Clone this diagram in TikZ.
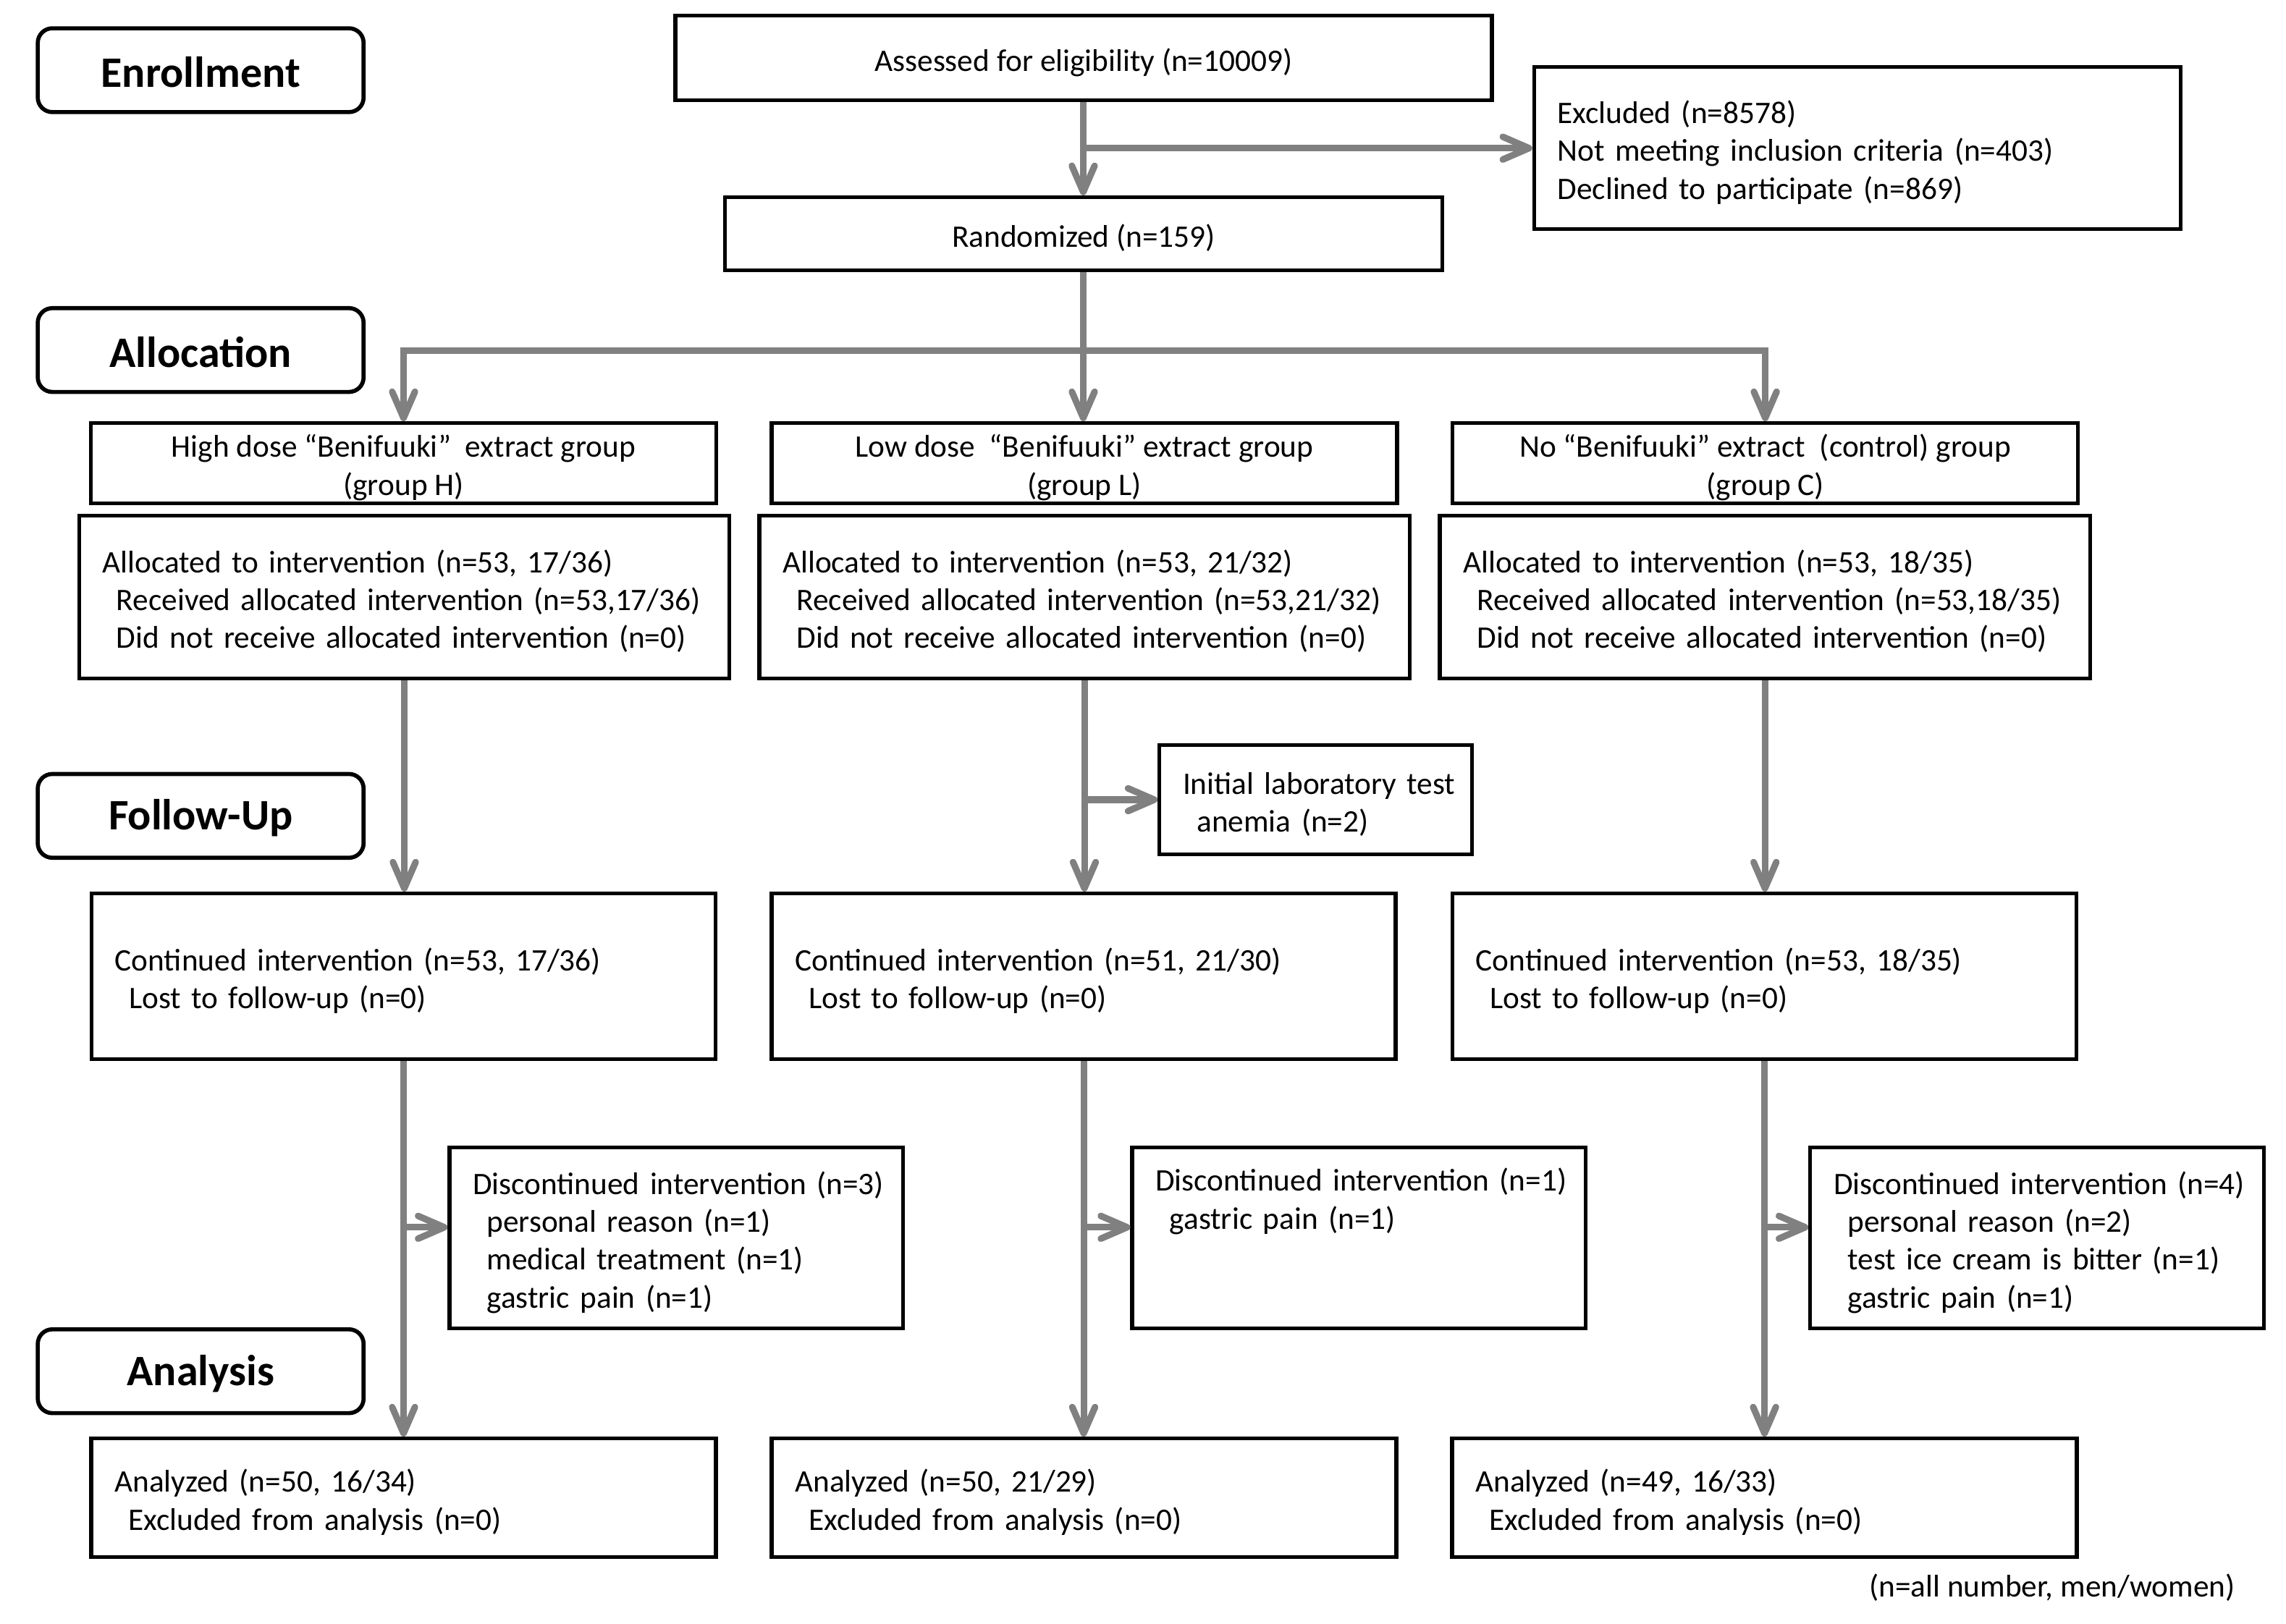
\documentclass[tikz,border=0pt]{standalone}
\usepackage{fontspec}
\setmainfont{Carlito}
\usetikzlibrary{arrows.meta}
\definecolor{conn}{RGB}{128,128,128}
\newcommand{\Tf}[1]{\mbox{\rule{0pt}{10.8pt}#1}}
\newcommand{\Tx}[1]{\mbox{#1}}
\newcommand{\Ti}[1]{\mbox{\hspace*{4.8pt}#1}}
\tikzset{
  nbox/.style={draw=black, line width=1.3pt, anchor=north west, inner xsep=8pt, inner ysep=0pt,
               font=\fontsize{10.75pt}{13pt}\selectfont},
  lbox/.style={nbox, align=left},
  cbox/.style={nbox, align=center, inner xsep=2pt},
  phase/.style={draw=black, line width=1.4pt, rounded corners=5pt, anchor=north west,
                minimum width=111.75pt, minimum height=28.75pt, inner sep=0pt,
                font=\fontsize{14.9pt}{18pt}\selectfont\bfseries},
  conline/.style={draw=conn, line width=2.25pt},
  flow/.style={conline, -{Straight Barb[length=9pt,width=7.8pt,round]}},
  grp/.style={cbox, minimum width=214.5pt, minimum height=27.5pt},
  alloc/.style={lbox, minimum width=223pt, minimum height=55.8pt, text width=207pt},
  cont/.style={lbox, minimum width=214pt, minimum height=56.85pt, text width=198pt},
  disc/.style={lbox, minimum width=155.5pt, minimum height=62pt, text width=139.5pt},
  anal/.style={lbox, minimum width=214.25pt, minimum height=40.7pt, text width=198.25pt}
}
\begin{document}
\begin{tikzpicture}[x=0.5pt,y=-0.5pt]
\useasboundingbox (0,0) rectangle (1568,1113.7);

% phase labels
\node[phase] (pEnr) at (24.5,18) {\rule{0pt}{12pt}Enrollment};
\node[phase] (pAll) at (24.5,210) {\rule{0pt}{12pt}Allocation};
\node[phase] (pFol) at (24.5,529.6) {\rule{0pt}{12pt}Follow-Up};
\node[phase] (pAna) at (24.5,910.6) {\rule{0pt}{12pt}Analysis};

% enrollment
\node[cbox, minimum width=280pt, minimum height=29pt] (assess) at (462,9.5) {\Tf{Assessed for eligibility (n=10009)}};
\node[lbox, minimum width=221.75pt, minimum height=55.65pt, text width=205.75pt] (excl) at (1051,44.7)
  {\Tf{Excluded (n=8578)}\\\Tx{Not meeting inclusion criteria (n=403)}\\\Tx{Declined to participate (n=869)}};
\node[cbox, minimum width=246pt, minimum height=25.15pt] (rand) at (496,134) {\Tf{Randomized (n=159)}};

% groups
\node[grp] (gH) at (61,289) {\Tf{High dose “Benifuuki”\ \ extract group}\\(group H)};
\node[grp] (gL) at (528,289) {\Tf{Low dose\ \ “Benifuuki” extract group}\\(group L)};
\node[grp] (gC) at (995,289) {\Tf{No “Benifuuki” extract\ \ (control) group}\\(group C)};

% allocation
\node[alloc] (aH) at (53,352.4) {\Tf{Allocated to intervention (n=53, 17/36)}\\\Ti{Received allocated intervention (n=53,17/36)}\\\Ti{Did not receive allocated intervention (n=0)}};
\node[alloc] (aL) at (519.5,352.4) {\Tf{Allocated to intervention (n=53, 21/32)}\\\Ti{Received allocated intervention (n=53,21/32)}\\\Ti{Did not receive allocated intervention (n=0)}};
\node[alloc] (aC) at (986.3,352.4) {\Tf{Allocated to intervention (n=53, 18/35)}\\\Ti{Received allocated intervention (n=53,18/35)}\\\Ti{Did not receive allocated intervention (n=0)}};

% initial lab test
\node[lbox, minimum width=107.25pt, minimum height=37.35pt, text width=91.25pt] (lab) at (794,510)
  {\Tf{Initial laboratory test}\\\Ti{anemia (n=2)}};

% continued
\node[cont] (cH) at (61.5,611.7) {\Tf{Continued intervention (n=53, 17/36)}\\\Ti{Lost to follow-up (n=0)}};
\node[cont] (cL) at (528,611.7) {\Tf{Continued intervention (n=51, 21/30)}\\\Ti{Lost to follow-up (n=0)}};
\node[cont] (cC) at (995,611.7) {\Tf{Continued intervention (n=53, 18/35)}\\\Ti{Lost to follow-up (n=0)}};

% discontinued
\node[disc] (dH) at (307,786) {\Tf{Discontinued intervention (n=3)}\\\Ti{personal reason (n=1)}\\\Ti{medical treatment (n=1)}\\\Ti{gastric pain (n=1)}};
\node[disc] (dL) at (775.3,786) {\Tf{Discontinued intervention (n=1)}\\\Ti{gastric pain (n=1)}\\\strut\\\strut\\[-1.2pt]};
\node[disc] (dC) at (1240.4,786) {\Tf{Discontinued intervention (n=4)}\\\Ti{personal reason (n=2)}\\\Ti{test ice cream is bitter (n=1)}\\\Ti{gastric pain (n=1)}};

% analysis
\node[anal] (nH) at (61.3,985.6) {\Tf{Analyzed (n=50, 16/34)}\\\Ti{Excluded from analysis (n=0)}};
\node[anal] (nL) at (528,985.6) {\Tf{Analyzed (n=50, 21/29)}\\\Ti{Excluded from analysis (n=0)}};
\node[anal] (nC) at (994.7,985.6) {\Tf{Analyzed (n=49, 16/33)}\\\Ti{Excluded from analysis (n=0)}};

\node[anchor=base east, inner sep=0pt, font=\fontsize{10.75pt}{13pt}\selectfont] (note) at (1533.4,1095.5) {(n=all number, men/women)};

% connectors
\coordinate (j1) at (743,240.4);
\draw[flow] (j1 |- assess.south) -- (j1 |- rand.north);
\draw[flow] (j1 |- excl.west) -- (excl.west);
\draw[conline] (j1 |- rand.south) -- (j1);
\draw[flow] (j1) -| (gH.north);
\draw[flow] (j1) -| (gC.north);
\draw[flow] (j1) -- (j1 |- gL.north);

\draw[flow] (aH.south) -- (aH.south |- cH.north);
\draw[flow] (aL.south) -- (aL.south |- cL.north);
\draw[flow] (aC.south) -- (aC.south |- cC.north);
\draw[flow] (aL.south |- lab.west) -- (lab.west);

\draw[flow] (cH.south) -- (cH.south |- nH.north);
\draw[flow] (cL.south) -- (cL.south |- nL.north);
\draw[flow] (cC.south) -- (cC.south |- nC.north);
\coordinate (kH) at (cH.south |- 0,842);
\coordinate (kL) at (cL.south |- 0,842);
\coordinate (kC) at (cC.south |- 0,842);
\draw[flow] (kH) -- (kH -| dH.west);
\draw[flow] (kL) -- (kL -| dL.west);
\draw[flow] (kC) -- (kC -| dC.west);
\end{tikzpicture}
\end{document}
